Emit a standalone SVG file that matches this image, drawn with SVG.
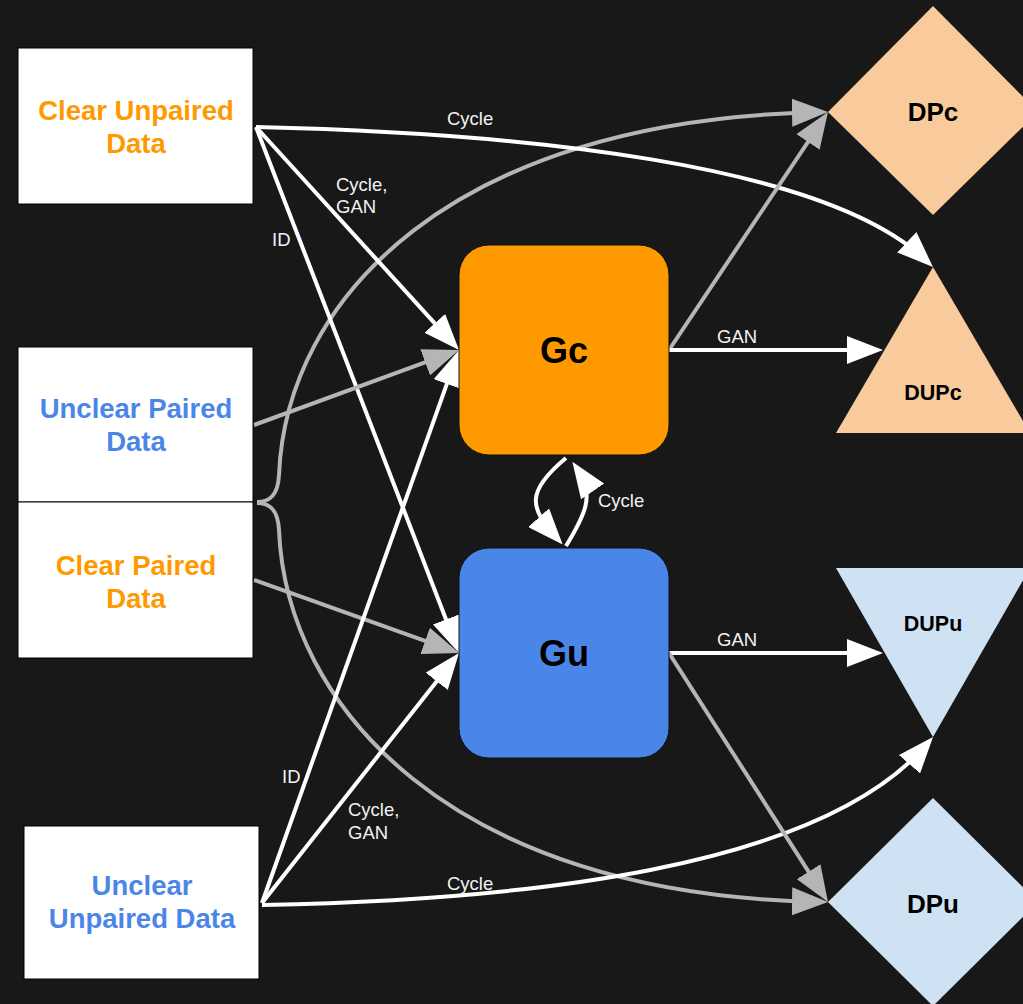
<svg xmlns="http://www.w3.org/2000/svg" width="1023" height="1004" viewBox="0 0 1023 1004">
<style>
.box{fill:#fff;stroke:#000;stroke-width:1}
.bt{font-family:"Liberation Sans",Arial,sans-serif;font-weight:bold;font-size:27.5px;text-anchor:middle}
.or{fill:#FF9900}
.bl{fill:#4A86E8}
.gt{font-family:"Liberation Sans",Arial,sans-serif;font-weight:bold;text-anchor:middle;fill:#000}
.lbl{font-family:"Liberation Sans",Arial,sans-serif;font-size:18.5px;fill:#f2f2f2}
.w{fill:none;stroke:#fff;stroke-width:4}
.g{fill:none;stroke:#B5B5B5;stroke-width:4}
</style>
<defs>
<marker id="aw" markerUnits="userSpaceOnUse" markerWidth="36" markerHeight="28" viewBox="0 0 36 28" refX="26" refY="14" orient="auto"><path d="M0,0 L36,14 L0,28 z" fill="#fff"/></marker>
<marker id="ag" markerUnits="userSpaceOnUse" markerWidth="36" markerHeight="28" viewBox="0 0 36 28" refX="26" refY="14" orient="auto"><path d="M0,0 L36,14 L0,28 z" fill="#B5B5B5"/></marker>
</defs>
<rect width="1023" height="1004" fill="#181818"/>

<g id="connectors">
<path class="g" d="M257 502 C270 502 278 495 279 475 C286 300 450 120 818 112.2" marker-end="url(#ag)"/>
<path class="g" d="M257 503 C270 503 278 510 279 530 C286 705 450 895 818 901.8" marker-end="url(#ag)"/>
<path class="w" d="M256 127 L452.3 342.6" marker-end="url(#aw)"/>
<path class="w" d="M256 127 L455.4 643.7" marker-end="url(#aw)"/>
<path class="w" d="M256 127 C520 133 823 163 925.7 260.1" marker-end="url(#aw)"/>
<path class="g" d="M254 425 L449.6 353.4" marker-end="url(#ag)"/>
<path class="g" d="M254 580 L449.6 649.6" marker-end="url(#ag)"/>
<path class="w" d="M262 903 L455.6 359.4" marker-end="url(#aw)"/>
<path class="w" d="M262 903 L452.8 660.9" marker-end="url(#aw)"/>
<path class="w" d="M262 905 C520 900 818 870 926.5 744.6" marker-end="url(#aw)"/>
<path class="g" d="M669 350 L822.4 120.3" marker-end="url(#ag)"/>
<path class="w" d="M669 350 L873 350" marker-end="url(#aw)"/>
<path class="w" d="M669 653 L873 653" marker-end="url(#aw)"/>
<path class="g" d="M669 653 L822.6 893.6" marker-end="url(#ag)"/>
<path class="w" d="M566 458 C525 492 530 508 556 537" marker-end="url(#aw)"/>
<path class="w" d="M566 546 C585 515 595 495 578 470" marker-end="url(#aw)"/>
<text class="lbl" x="447" y="125">Cycle</text>
<text class="lbl" x="336" y="191">Cycle,</text>
<text class="lbl" x="336" y="213">GAN</text>
<text class="lbl" x="272" y="246">ID</text>
<text class="lbl" x="717" y="343">GAN</text>
<text class="lbl" x="717" y="646">GAN</text>
<text class="lbl" x="598" y="507">Cycle</text>
<text class="lbl" x="282" y="783">ID</text>
<text class="lbl" x="348" y="816">Cycle,</text>
<text class="lbl" x="348" y="839">GAN</text>
<text class="lbl" x="447" y="890">Cycle</text>
</g>

<g id="clear-unpaired">
<rect class="box" x="18" y="48" width="235" height="156"/>
<text class="bt or" x="136" y="120">Clear Unpaired</text>
<text class="bt or" x="136" y="153">Data</text>
</g>
<g id="unclear-paired">
<rect class="box" x="18" y="347" width="235" height="155"/>
<text class="bt bl" x="136" y="418">Unclear Paired</text>
<text class="bt bl" x="136" y="451">Data</text>
</g>
<g id="clear-paired">
<rect class="box" x="18" y="502" width="235" height="156"/>
<text class="bt or" x="136" y="575">Clear Paired</text>
<text class="bt or" x="136" y="608">Data</text>
</g>
<g id="unclear-unpaired">
<rect class="box" x="24" y="826" width="235" height="153"/>
<text class="bt bl" x="142" y="895">Unclear</text>
<text class="bt bl" x="142" y="928">Unpaired Data</text>
</g>

<g id="Gc">
<rect x="459" y="245" width="210" height="210" rx="30" fill="#FF9900" stroke="#111" stroke-width="1"/>
<text class="gt" x="564" y="363" font-size="36">Gc</text>
</g>
<g id="Gu">
<rect x="459" y="548" width="210" height="210" rx="30" fill="#4A86E8" stroke="#111" stroke-width="1"/>
<text class="gt" x="564" y="666" font-size="36">Gu</text>
</g>

<g id="DPc">
<polygon points="933,6 1038,112 933,215 828,112" fill="#F9CB9C"/>
<text class="gt" x="933" y="121" font-size="26">DPc</text>
</g>
<g id="DUPc">
<polygon points="933,267 1030,433 836,433" fill="#F9CB9C"/>
<text class="gt" x="933" y="400" font-size="21.5">DUPc</text>
</g>
<g id="DUPu">
<polygon points="836,568 1030,568 933,737" fill="#CFE2F3"/>
<text class="gt" x="933" y="631" font-size="21.5">DUPu</text>
</g>
<g id="DPu">
<polygon points="933,798 1038,902 933,1006 828,902" fill="#CFE2F3"/>
<text class="gt" x="933" y="913" font-size="26">DPu</text>
</g>
</svg>
